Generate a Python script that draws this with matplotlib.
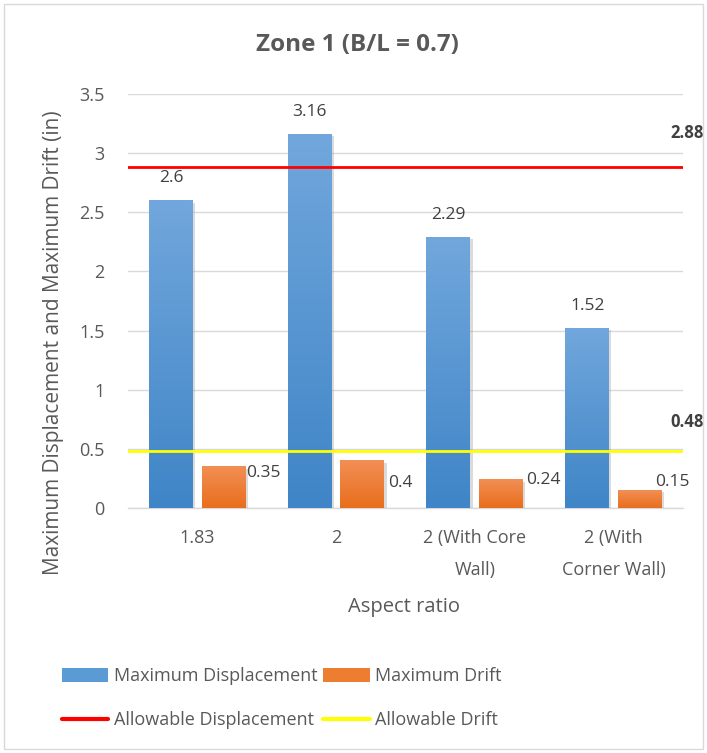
import numpy as np
import matplotlib
matplotlib.use("Agg")
import matplotlib.pyplot as plt
from matplotlib.patches import Patch, Rectangle
from matplotlib.lines import Line2D
import matplotlib.patheffects as pe
from matplotlib.colors import LinearSegmentedColormap

# ---- data ----
categories = ["1.83", "2", "2 (With Core\nWall)", "2 (With\nCorner Wall)"]
max_displacement = [2.6, 3.16, 2.29, 1.52]
max_drift = [0.35, 0.4, 0.24, 0.15]
allowable_displacement = 2.88
allowable_drift = 0.48
yticks = [0, 0.5, 1, 1.5, 2, 2.5, 3, 3.5]
ytick_labels = ["0", "0.5", "1", "1.5", "2", "2.5", "3", "3.5"]

# ---- style ----
plt.rcParams["font.family"] = ["Open Sans", "DejaVu Sans"]
TEXT = "#595959"
GRID = "#d9d9d9"
BLUE_TOP, BLUE_BOT = "#71a7dc", "#3f85c7"
ORANGE_TOP, ORANGE_BOT = "#f28f55", "#e86e1c"

fig = plt.figure(figsize=(7.07, 7.53), dpi=100)
ax = fig.add_axes([0.181, 0.3254, 0.785, 0.5498])

x = np.arange(len(categories))
width = 0.317
offset = 0.19

shadow = [pe.SimplePatchShadow(offset=(1.5, -1.5), shadow_rgbFace="#9a9a9a", alpha=0.35), pe.Normal()]
bars_disp = ax.bar(x - offset, max_displacement, width, color=BLUE_BOT, zorder=3, path_effects=shadow)
bars_drift = ax.bar(x + offset, max_drift, width, color=ORANGE_BOT, zorder=3, path_effects=shadow)


def gradient_fill(bars, top, bottom):
    cmap = LinearSegmentedColormap.from_list("g", [bottom, top])
    grad = np.linspace(0, 1, 256).reshape(-1, 1)
    for b in bars:
        x0, w, h = b.get_x(), b.get_width(), b.get_height()
        ax.imshow(grad, extent=[x0, x0 + w, 0, h], origin="lower", cmap=cmap,
                  aspect="auto", zorder=3.5, interpolation="bilinear")


gradient_fill(bars_disp, BLUE_TOP, BLUE_BOT)
gradient_fill(bars_drift, ORANGE_TOP, ORANGE_BOT)

# allowable limits
ax.axhline(allowable_displacement, color="#ff0000", lw=2, zorder=4)
ax.axhline(allowable_drift, color="#ffff00", lw=2, zorder=4)

ax.set_xlim(-0.5, len(categories) - 0.5)
ax.set_ylim(0, 3.5)

# value labels
for b, v in zip(bars_disp, max_displacement):
    ax.annotate(f"{v:g}", (b.get_x() + b.get_width() / 2, v), xytext=(0, 16),
                textcoords="offset points", ha="center", va="center",
                fontsize=12.5, color="#404040")
drift_label_offsets = [(0, -4.5), (3, -16), (2, 0), (-5, 6)]
for b, v, (dx, dy) in zip(bars_drift, max_drift, drift_label_offsets):
    ax.annotate(f"{v:g}", (b.get_x() + b.get_width(), v), xytext=(dx, dy),
                textcoords="offset points", ha="left", va="center",
                fontsize=12.5, color="#404040", zorder=5)
ax.annotate(f"{allowable_displacement:g}", (1, allowable_displacement),
            xycoords=("axes fraction", "data"), xytext=(15, 25),
            textcoords="offset points", ha="right", va="center",
            fontsize=12, fontweight="bold", color="#404040", annotation_clip=False)
ax.annotate(f"{allowable_drift:g}", (1, allowable_drift),
            xycoords=("axes fraction", "data"), xytext=(15, 21),
            textcoords="offset points", ha="right", va="center",
            fontsize=12, fontweight="bold", color="#404040", annotation_clip=False)

# axes styling
ax.set_yticks(yticks)
ax.set_yticklabels(ytick_labels)
ax.set_xticks(x)
ax.set_xticklabels(categories, linespacing=2.0)
ax.tick_params(axis="both", length=0, labelsize=13, labelcolor=TEXT)
ax.tick_params(axis="y", pad=17)
ax.tick_params(axis="x", pad=15)
ax.grid(axis="y", color=GRID, lw=1, zorder=0)
for s in ["top", "right", "left"]:
    ax.spines[s].set_visible(False)
ax.spines["bottom"].set_color(GRID)
ax.spines["bottom"].set_linewidth(1)
ax.set_axisbelow(True)

fig.text(0.506, 0.940, "Zone 1 (B/L = 0.7)", ha="center", va="center",
         fontsize=17.5, fontweight="bold", color=TEXT)
fig.text(0.075, 0.545, "Maximum Displacement and Maximum Drift (in)", rotation=90,
         ha="center", va="center", fontsize=15, color=TEXT)
fig.text(0.571, 0.194, "Aspect ratio", ha="center", va="center", fontsize=14.5, color=TEXT)

handles = [
    Patch(facecolor="#5b9bd5", edgecolor="none"),
    Line2D([], [], color="#ff0000", lw=3, solid_capstyle="round"),
    Patch(facecolor="#ed7d31", edgecolor="none"),
    Line2D([], [], color="#ffff00", lw=3, solid_capstyle="round"),
]
labels = ["Maximum Displacement", "Allowable Displacement", "Maximum Drift", "Allowable Drift"]
fig.legend(handles, labels, ncol=2, loc="upper left", bbox_to_anchor=(0.087, 0.1143),
           frameon=False, fontsize=13, labelcolor=TEXT, handlelength=2.6,
           handleheight=0.8, handletextpad=0.3, columnspacing=0.3, labelspacing=1.47,
           borderaxespad=0, borderpad=0)

fig.patches.append(Rectangle((0.006, 0.005), 0.988, 0.99, transform=fig.transFigure,
                             fill=False, edgecolor=GRID, lw=1))

fig.savefig("out.png", dpi=100, facecolor="white")
